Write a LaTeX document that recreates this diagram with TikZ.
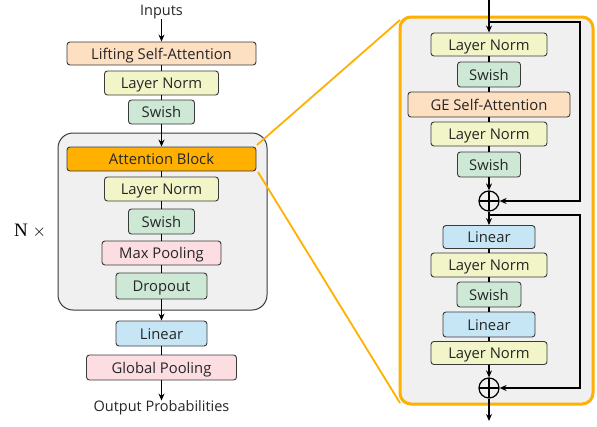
\documentclass[tikz,border=0pt]{standalone}
\usepackage{fontspec}
\setmainfont{Open Sans}
\newfontfamily\serifN{Liberation Serif}
\usetikzlibrary{arrows.meta}
\definecolor{cPeach}{HTML}{FDDFC2}
\definecolor{cYel}{HTML}{F2F5C8}
\definecolor{cGreen}{HTML}{CDE8D4}
\definecolor{cPink}{HTML}{FBDDE2}
\definecolor{cBlue}{HTML}{C6E6F6}
\definecolor{cOrange}{HTML}{FFB000}
\definecolor{cGray}{HTML}{F0F0F0}
\definecolor{cEdge}{HTML}{3A3A3A}
\tikzset{
  blk/.style={draw=cEdge, line width=0.9pt, rounded corners=3pt, inner sep=0pt,
    text height=11pt, text depth=0pt,
    font=\fontsize{14.8}{16}\selectfont, text=black!85},
  conn/.style={line width=1.8pt, black},
  arr/.style={conn, -{Stealth[length=7pt,width=6pt]}},
  res/.style={line width=1.8pt, black, rounded corners=0pt},
  zoomline/.style={cOrange, line width=1.8pt},
  plus/.style={circle, draw=black, line width=1.2pt, minimum size=20pt, inner sep=0pt,
    path picture={\draw[line width=1.2pt] (path picture bounding box.north) -- (path picture bounding box.south)
      (path picture bounding box.west) -- (path picture bounding box.east);}},
  lbl/.style={font=\fontsize{14.5}{16}\selectfont, text=black!85, inner sep=0pt}
}
\begin{document}
\begin{tikzpicture}[x=1pt,y=-1pt]
\useasboundingbox (0,0) rectangle (597,426);
% ---------- left column ----------
\node[draw=cEdge, fill=cGray, line width=1pt, rounded corners=15pt, minimum width=209pt, minimum height=177pt, inner sep=0pt] (grp) at (162.5,221.5) {};
\node[lbl] (inputs) at (161.5,12) {Inputs};
\node[blk, fill=cPeach, minimum width=189pt, minimum height=23pt] (lsa) at (161.5,53.5) {Lifting Self-Attention};
\node[blk, fill=cYel, minimum width=114pt, minimum height=24pt] (ln1) at (161.5,83) {Layer Norm};
\node[blk, fill=cGreen, minimum width=66pt, minimum height=24pt] (sw1) at (161.5,112) {Swish};
\node[blk, fill=cOrange, minimum width=189pt, minimum height=24pt] (ab) at (161.5,159) {Attention Block};
\node[blk, fill=cYel, minimum width=114pt, minimum height=24pt] (ln2) at (161.5,189) {Layer Norm};
\node[blk, fill=cGreen, minimum width=66pt, minimum height=25pt] (sw2) at (161.5,221.5) {Swish};
\node[blk, fill=cPink, minimum width=119pt, minimum height=24pt] (mp) at (161.5,253) {Max Pooling};
\node[blk, fill=cGreen, minimum width=91pt, minimum height=26pt] (dr) at (161.5,286) {Dropout};
\node[blk, fill=cBlue, minimum width=91pt, minimum height=25pt] (lin) at (161.5,333.5) {Linear};
\node[blk, fill=cPink, minimum width=150pt, minimum height=25pt] (gp) at (161.5,367.5) {Global Pooling};
\node[lbl] (out) at (161.5,408) {Output Probabilities};
\node[inner sep=0pt, font=\serifN\fontsize{19}{21}\selectfont] (nx) at (30,231) {N $\times$};
\draw[arr] (inputs) -- (lsa);
\draw[conn] (lsa) -- (ln1);
\draw[conn] (ln1) -- (sw1);
\draw[arr] (sw1) -- (ab);
\draw[conn] (ab) -- (ln2);
\draw[conn] (ln2) -- (sw2);
\draw[conn] (sw2) -- (mp);
\draw[conn] (mp) -- (dr);
\draw[arr] (dr) -- (lin);
\draw[conn] (lin) -- (gp);
\draw[arr] (gp) -- (out);
% ---------- right panel ----------
\node[draw=cOrange, fill=cGray, line width=3pt, rounded corners=11pt, minimum width=193pt, minimum height=387pt, inner sep=0pt] (panel) at (496.5,210.5) {};
\coordinate (top) at (489,0);
\coordinate (bot) at (489,421);
\coordinate (r1a) at (489,22);
\coordinate (r1b) at (580,22);
\coordinate (r2a) at (489,215);
\coordinate (r2b) at (580,215);
\node[blk, fill=cYel, minimum width=116pt, minimum height=23pt] (rln1) at (489,44.5) {Layer Norm};
\node[blk, fill=cGreen, minimum width=63pt, minimum height=25pt] (rsw1) at (489,74.5) {Swish};
\node[blk, fill=cPeach, minimum width=162pt, minimum height=25pt] (ge) at (489,104.5) {GE Self-Attention};
\node[blk, fill=cYel, minimum width=116pt, minimum height=24pt] (rln2) at (489,134) {Layer Norm};
\node[blk, fill=cGreen, minimum width=63pt, minimum height=25pt] (rsw2) at (489,164.5) {Swish};
\node[plus] (p1) at (489,201) {};
\node[blk, fill=cBlue, minimum width=92pt, minimum height=23pt] (rlin1) at (489,237) {Linear};
\node[blk, fill=cYel, minimum width=116pt, minimum height=24pt] (rln3) at (489,265) {Layer Norm};
\node[blk, fill=cGreen, minimum width=64pt, minimum height=25pt] (rsw3) at (489,294.5) {Swish};
\node[blk, fill=cBlue, minimum width=92pt, minimum height=25pt] (rlin2) at (489,324.5) {Linear};
\node[blk, fill=cYel, minimum width=116pt, minimum height=23pt] (rln4) at (489,353) {Layer Norm};
\node[plus] (p2) at (489,388) {};
\draw[arr] (top) -- (rln1);
\draw[conn] (rln1) -- (rsw1);
\draw[conn] (rsw1) -- (ge);
\draw[conn] (ge) -- (rln2);
\draw[conn] (rln2) -- (rsw2);
\draw[arr] (rsw2) -- (p1);
\draw[arr] (p1) -- (rlin1);
\draw[conn] (rlin1) -- (rln3);
\draw[conn] (rln3) -- (rsw3);
\draw[conn] (rsw3) -- (rlin2);
\draw[conn] (rlin2) -- (rln4);
\draw[arr] (rln4) -- (p2);
\draw[arr] (p2) -- (bot);
\draw[res, -{Stealth[length=7pt,width=6pt]}] (r1a) -- (r1b) |- (p1);
\draw[res, -{Stealth[length=7pt,width=6pt]}] (r2a) -- (r2b) |- (p2);
% ---------- zoom lines ----------
\coordinate (z1a) at (257,145);
\coordinate (z1b) at (400,20);
\coordinate (z2a) at (258,172);
\coordinate (z2b) at (400,403);
\draw[zoomline] (z1a) -- (z1b);
\draw[zoomline] (z2a) -- (z2b);
\end{tikzpicture}
\end{document}
